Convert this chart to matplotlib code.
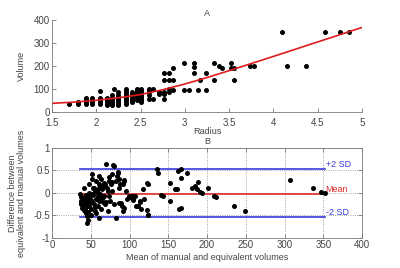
import numpy as np
import matplotlib
matplotlib.use("Agg")
import matplotlib.pyplot as plt

# panel A: radius / volume
radius = [1.69, 1.79, 1.79,
          1.88, 1.88, 1.88, 1.88, 1.88,
          1.95, 1.95, 1.95, 1.95, 1.95,
          2.04, 2.04, 2.04, 2.04, 2.04, 2.04,
          2.12, 2.12, 2.12, 2.12, 2.12, 2.12,
          2.18, 2.18, 2.18, 2.18, 2.18, 2.18, 2.18, 2.20,
          2.25, 2.25, 2.25, 2.25, 2.25, 2.25, 2.25, 2.25,
          2.33, 2.33, 2.33, 2.33, 2.33, 2.33, 2.33, 2.33, 2.33, 2.33,
          2.40, 2.40, 2.40, 2.40, 2.40, 2.40, 2.40,
          2.46, 2.46, 2.46, 2.46, 2.46, 2.46, 2.46, 2.46,
          2.51, 2.51, 2.51, 2.51, 2.51, 2.51, 2.51, 2.51, 2.51,
          2.59, 2.59, 2.59, 2.59, 2.59, 2.64, 2.64,
          2.71, 2.71, 2.77, 2.77, 2.77, 2.77, 2.77,
          2.82, 2.82, 2.82, 2.82, 2.87, 2.87, 2.87,
          2.99, 2.99, 3.05, 3.10, 3.10, 3.10, 3.15,
          3.17, 3.24, 3.24, 3.33, 3.33, 3.38, 3.42, 3.52, 3.52,
          3.56, 3.56, 3.73, 3.78, 4.10, 4.15, 4.37, 4.58, 4.75, 4.85]
volume = [36, 36, 44,
          36, 44, 51, 58, 63,
          36, 44, 51, 58, 63,
          36, 44, 51, 58, 63, 93,
          29, 36, 44, 51, 58, 63,
          29, 36, 44, 51, 58, 63, 73, 102,
          29, 36, 44, 51, 58, 66, 73, 88,
          36, 44, 51, 58, 66, 73, 80, 88, 95, 102,
          44, 51, 58, 66, 73, 80, 88,
          51, 58, 66, 73, 80, 88, 95, 102,
          44, 51, 58, 66, 73, 80, 88, 95, 102,
          58, 73, 88, 95, 102, 58, 102,
          80, 88, 58, 80, 88, 139, 168,
          88, 102, 139, 168, 95, 139, 190,
          95, 212, 95, 168, 197, 212, 95,
          139, 95, 168, 139, 212, 201, 193, 193, 212,
          139, 193, 201, 201, 350, 201, 201, 350, 350, 350]

fit_r = [1.5, 1.75, 2.0, 2.25, 2.5, 2.75, 3.0, 3.25, 3.5, 4.0, 4.5, 5.0]
fit_v = [38, 43, 51, 62, 76, 97, 122, 150, 180, 242, 305, 368]

# panel B: Bland-Altman
ba_mean = [36, 37, 37, 38, 39, 40, 41, 42, 43, 43, 45, 45, 46, 47, 47, 48, 48,
           49, 50, 50, 51, 52, 52, 53, 54, 56, 57, 57, 58, 59, 59, 60, 61, 61,
           62, 63, 63, 64, 65, 67, 67, 69, 70, 71, 72, 73, 74, 75, 76, 77, 78,
           80, 80, 82, 83, 84, 85, 86, 87, 88, 89, 90, 91, 93, 93, 96, 97, 99,
           101, 103, 104, 107, 109, 111, 113, 115, 117, 119, 122, 124, 124,
           135, 137, 143, 152, 152, 161, 163, 167, 167, 174, 180, 187,
           38, 40, 42, 44, 46, 48, 50, 53, 55, 58, 62, 66, 68, 72, 74, 78,
           41, 44, 47, 51, 54, 57, 60, 64, 66, 70, 79, 85, 87, 91, 93, 102,
           104, 113, 122, 124, 141, 159, 164, 166, 185, 189, 191, 193, 201,
           209, 212, 235, 249, 307, 337, 347, 352,
           39, 42, 45, 49, 52, 55, 59, 63, 68, 44, 48, 56, 61]
ba_diff = [-0.03, -0.10, -0.18, -0.25, -0.33, -0.14, 0.12, -0.07, -0.22, -0.40,
           -0.51, -0.66, -0.59, -0.29, -0.10, 0.01, 0.19, -0.18, -0.36, -0.48,
           0.30, 0.42, -0.03, 0.12, -0.25, -0.40, -0.14, 0.27, 0.04, -0.07,
           -0.29, 0.38, 0.19, -0.18, -0.03, 0.30, -0.36, 0.08, -0.14, 0.23,
           -0.07, -0.25, 0.64, 0.12, -0.40, 0.27, -0.07, -0.18, 0.19, 0.42,
           0.04, 0.60, -0.25, 0.27, -0.55, 0.38, 0.45, 0.12, -0.22, 0.19,
           -0.22, -0.29, -0.40, 0.27, -0.33, 0.04, -0.14, -0.07, -0.10, -0.07,
           -0.14, -0.07, -0.29, -0.29, -0.18, -0.36, 0.08, -0.14, 0.23, 0.19,
           -0.48, 0.53, 0.45, -0.07, 0.23, -0.18, 0.08, 0.49, 0.53, -0.33,
           0.45, 0.12, 0.08,
           -0.20, -0.30, -0.12, -0.45, -0.22, -0.08, -0.15, -0.05, -0.30,
           0.05, 0.10, -0.20, 0.15, 0.05, 0.35, 0.25,
           -0.38, -0.05, -0.42, -0.20, 0.10, -0.45, -0.55, 0.15, -0.10,
           -0.20, 0.62, 0.47, 0.32, 0.21, 0.28, -0.10,
           -0.15, -0.20, -0.37, -0.50, -0.05, 0.08, -0.35, 0.34, 0.16,
           0.25, 0.02, -0.01, 0.12, -0.07, -0.10, -0.29, -0.40, 0.29, 0.10,
           0.03, 0.01,
           -0.27, -0.35, -0.12, -0.05, -0.20, 0.05, 0.00, -0.10, 0.20,
           -0.15, -0.28, -0.32, 0.10]
ba_lines = [0.54, -0.03, -0.53]
ba_labels = ["+2 SD", "Mean", "-2 SD"]
ba_colors = ["#3a3adc", "#dc2a2a", "#3a3adc"]

plt.rcParams["font.family"] = ["Liberation Sans", "DejaVu Sans"]
plt.rcParams["font.size"] = 7
txt = "#444444"
spine = "#7a7a7a"

fig = plt.figure(figsize=(4.0, 2.68), dpi=100)

# --- A ---
ax1 = fig.add_axes([0.13, 0.582, 0.775, 0.343])
ax1.plot(radius, volume, "o", color="black", markersize=3.6, markeredgewidth=0)
ax1.plot(fit_r, fit_v, color="#dd1c1c", linewidth=1.2)
ax1.set_xlim(1.5, 5)
ax1.set_ylim(0, 400)
ax1.set_xticks(np.arange(1.5, 5.01, 0.5))
ax1.set_xticklabels(["1.5", "2", "2.5", "3", "3.5", "4", "4.5", "5"])
ax1.set_yticks([0, 100, 200, 300, 400])
for s in ["top", "right"]:
    ax1.spines[s].set_visible(False)
for s in ["left", "bottom"]:
    ax1.spines[s].set_color(spine)
    ax1.spines[s].set_linewidth(0.6)
ax1.tick_params(direction="in", length=3, width=0.6, colors=spine,
                labelcolor=txt, labelsize=7, pad=1.5)
ax1.tick_params(axis="x", pad=4.5)
ax1.set_xlabel("Radius", color=txt, fontsize=6.5, labelpad=-1)
ax1.set_ylabel("Volume", color=txt, fontsize=6.5)
ax1.yaxis.set_label_coords(-0.085, 0.5)
ax1.set_title("A", color=txt, fontsize=6.5, pad=3)

# --- B ---
ax2 = fig.add_axes([0.13, 0.112, 0.775, 0.336])
ax2.plot(ba_mean, ba_diff, "o", color="black", markersize=3.6,
         markeredgewidth=0, zorder=3)
for val, lab, col in zip(ba_lines, ba_labels, ba_colors):
    ax2.plot([36, 352], [val, val], color=col, linewidth=1.2, zorder=2)
    ax2.text(353, val + 0.1, lab, color=col, fontsize=6.5,
             ha="left", va="center")
ax2.set_xlim(0, 400)
ax2.set_ylim(-1, 1)
ax2.set_xticks(np.arange(0, 401, 50))
ax2.set_yticks([-1, -0.5, 0, 0.5, 1])
ax2.set_yticklabels(["-1", "-0.5", "0", "0.5", "1"])
ax2.grid(True, linestyle=":", color="#888888", linewidth=0.6)
for s in ax2.spines.values():
    s.set_color(spine)
    s.set_linewidth(0.6)
ax2.tick_params(direction="in", length=3, width=0.6, colors=spine,
                labelcolor=txt, labelsize=7, pad=1.5, top=True, right=True)
ax2.set_xlabel("Mean of manual and equivalent volumes", color=txt,
               fontsize=6.5, labelpad=2)
ax2.set_ylabel("Difference between\nequivalent and manual volumes",
               color=txt, fontsize=6.5, linespacing=1.0)
ax2.yaxis.set_label_coords(-0.085, 0.5)
ax2.set_title("B", color=txt, fontsize=6.5, pad=3)

fig.savefig("out.png", dpi=100)
